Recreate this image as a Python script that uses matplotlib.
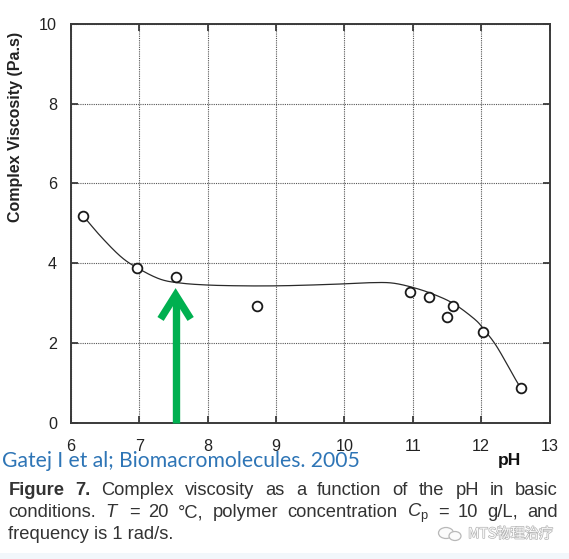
import numpy as np
import matplotlib
matplotlib.use("Agg")
import matplotlib.pyplot as plt
import matplotlib.patheffects as pe
from matplotlib.patches import Rectangle, Ellipse

plt.rcParams['font.family'] = ['Liberation Sans', 'DejaVu Sans']
plt.rcParams['mathtext.fontset'] = 'custom'
plt.rcParams['mathtext.rm'] = 'Liberation Sans'
plt.rcParams['mathtext.it'] = 'Liberation Sans:italic'

# ---------------- data ----------------
ph_points = [6.18, 6.97, 7.53, 8.72, 10.96, 11.23, 11.50, 11.58, 12.03, 12.58]
visc_points = [5.18, 3.88, 3.64, 2.92, 3.28, 3.16, 2.66, 2.92, 2.27, 0.86]

curve_ph = [6.18, 6.44, 6.73, 6.97, 7.30, 7.60, 8.00, 8.50, 9.00, 9.50, 10.00,
            10.40, 10.70, 11.00, 11.30, 11.60, 11.90, 12.03, 12.20, 12.35, 12.48, 12.58]
curve_visc = [5.18, 4.66, 4.16, 3.88, 3.60, 3.50, 3.45, 3.43, 3.43, 3.45, 3.48,
              3.51, 3.50, 3.39, 3.22, 2.98, 2.60, 2.36, 1.98, 1.55, 1.15, 0.86]

x_ticks = [6, 7, 8, 9, 10, 11, 12, 13]
y_ticks = [0, 2, 4, 6, 8, 10]

arrow_x = 7.53
arrow_tip = 3.30

W, H = 569, 559


def catmull_rom(xs, ys, n=20):
    P = np.column_stack([xs, ys]).astype(float)
    P = np.vstack([P[0] * 2 - P[1], P, P[-1] * 2 - P[-2]])
    out = []
    for i in range(1, len(P) - 2):
        p0, p1, p2, p3 = P[i - 1], P[i], P[i + 1], P[i + 2]
        t = np.linspace(0, 1, n, endpoint=False)[:, None]
        seg = 0.5 * ((2 * p1) + (-p0 + p2) * t + (2 * p0 - 5 * p1 + 4 * p2 - p3) * t ** 2
                     + (-p0 + 3 * p1 - 3 * p2 + p3) * t ** 3)
        out.append(seg)
    out.append(P[-2][None, :])
    out = np.vstack(out)
    return out[:, 0], out[:, 1]


fig = plt.figure(figsize=(W / 100, H / 100), dpi=100)
fig.patch.set_facecolor('white')

ax = fig.add_axes([71 / W, 1 - 422.7 / H, (549.6 - 71) / W, (422.7 - 23.7) / H])
ax.set_xlim(6, 13)
ax.set_ylim(0, 10)
ax.set_xticks(x_ticks)
ax.set_yticks(y_ticks)
ax.grid(True, color='#555555', linestyle=(0, (1, 1)), linewidth=0.8)
ax.set_axisbelow(True)
for s in ax.spines.values():
    s.set_color('#3a3a3a')
    s.set_linewidth(1.4)
ax.tick_params(direction='in', length=5, width=1.3, color='#3a3a3a',
               top=True, right=True, labelsize=11.6, labelcolor='#222222')
ax.tick_params(axis='x', pad=12)
ax.tick_params(axis='y', pad=10)

cx, cy = catmull_rom(curve_ph, curve_visc)
ax.plot(cx, cy, color='#2a2a2a', linewidth=0.9, zorder=3)
ax.plot(ph_points, visc_points, linestyle='none', marker='o', markersize=7,
        markerfacecolor='white', markeredgecolor='#1a1a1a', markeredgewidth=1.3, zorder=4)

# green arrow
green = '#00b050'
head_dx, head_dy = 0.22, 0.70
ax.plot([arrow_x, arrow_x], [0, arrow_tip - 0.15], color=green, linewidth=5.3,
        solid_capstyle='butt', zorder=5, clip_on=False)
ax.plot([arrow_x - head_dx, arrow_x, arrow_x + head_dx],
        [arrow_tip - head_dy, arrow_tip - 0.1, arrow_tip - head_dy], color=green,
        linewidth=5.3, solid_joinstyle='miter', solid_capstyle='butt', zorder=5)

fig.text(509 / W, 1 - 465 / H, 'pH', ha='center', va='baseline', fontsize=12.5,
         fontweight='bold', color='#111111')

fig.canvas.draw()
renderer = fig.canvas.get_renderer()

# y label fitted to its span in the reference
yl = fig.text(15.8 / W, 1 - 127 / H, 'Complex Viscosity (Pa.s)', rotation=90,
              ha='center', va='center', fontsize=10.3, fontweight='bold', color='#222222')
hh = yl.get_window_extent(renderer).height
yl.set_fontsize(10.3 * 190 / hh)


def fit_text(x, y, s, target_w, size, **kw):
    t = fig.text(x / W, 1 - y / H, s, fontsize=size, va='baseline', ha='left', **kw)
    w = t.get_window_extent(renderer).width
    t.set_fontsize(size * target_w / w)
    return t.get_fontsize()


fit_text(1.7, 466.7, 'Gatej I et al; Biomacromolecules. 2005', 357, 13,
         family=['Lato', 'DejaVu Sans'], color='#2e75b6')

cap_size = fit_text(8.3, 539.3, 'frequency is 1 rad/s.', 166.7, 12.4, color='#333333')


def justify(words, y, x0, x1):
    texts = []
    for w, bold in words:
        t = fig.text(0, 1 - y / H, w, fontsize=cap_size, va='baseline', ha='left',
                     fontweight='bold' if bold else 'normal', color='#333333')
        texts.append(t)
    widths = [t.get_window_extent(renderer).width for t in texts]
    gap = (x1 - x0 - sum(widths)) / (len(texts) - 1)
    x = x0
    for t, wd in zip(texts, widths):
        t.set_x(x / W)
        x += wd + gap


line1 = [('Figure', True), ('7.', True)] + [(w, False) for w in
         'Complex viscosity as a function of the pH in basic'.split()]
line2 = [(w, False) for w in ['conditions.', '$T$', '=', '20', '°C,', 'polymer',
                              'concentration', '$C_{\\mathrm{p}}$', '=', '10', 'g/L,', 'and']]
justify(line1, 495, 8.3, 558)
justify(line2, 517.3, 8.3, 558)

# watermark (small chat-bubble icon + text)
for (ex, ey, ew, eh) in [(446 / W, 1 - 533 / H, 15 / W, 11 / H), (455 / W, 1 - 536 / H, 12 / W, 9 / H)]:
    fig.patches.append(Ellipse((ex, ey), ew, eh, transform=fig.transFigure,
                               facecolor='#fbfbfb', edgecolor='#b8b8b8', linewidth=0.9))
fig.text(468 / W, 1 - 534 / H, 'MTS物理治疗', ha='left', va='center', fontsize=10.2,
         family=['Noto Sans CJK SC', 'DejaVu Sans'], color='#fafafa',
         path_effects=[pe.withStroke(linewidth=1.0, foreground='#b4b4b4')])

fig.patches.append(Rectangle((0, 0), 1, 6 / H, transform=fig.transFigure,
                             facecolor='#f2f7fb', edgecolor='none'))

fig.savefig('out.png', dpi=100)
